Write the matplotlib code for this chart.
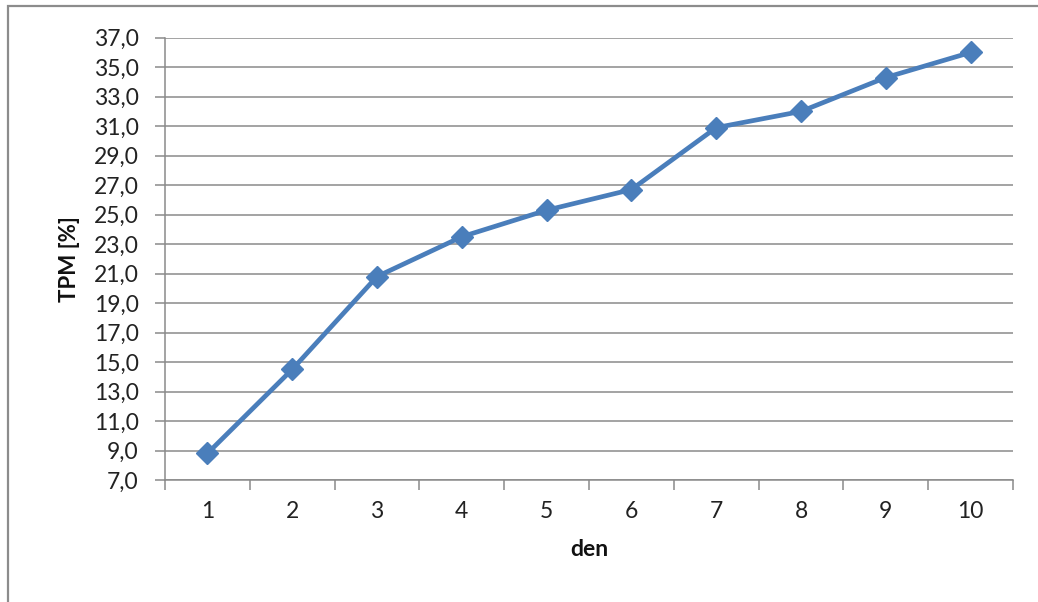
import matplotlib
matplotlib.use("Agg")
import matplotlib.pyplot as plt
from matplotlib.patches import Rectangle
from matplotlib.ticker import FixedLocator, NullFormatter

days = [1, 2, 3, 4, 5, 6, 7, 8, 9, 10]
tpm = [8.8, 14.5, 20.8, 23.5, 25.3, 26.7, 30.9, 32.0, 34.3, 36.0]
y_ticks = [7 + 2 * i for i in range(16)]

plt.rcParams['font.family'] = ['Lato', 'DejaVu Sans']

fig = plt.figure(figsize=(10.38, 6.02), dpi=100)
ax = fig.add_axes([165 / 1038, 1 - 480 / 602, (1013 - 165) / 1038, (480 - 37.7) / 602])

grid_c = '#8a8a8a'
line_c = '#4a7ebb'

ax.plot(days, tpm, color=line_c, lw=3.4, marker='D', markersize=11,
        markerfacecolor=line_c, markeredgecolor=line_c, solid_capstyle='round', zorder=3)

ax.set_xlim(0.5, 10.5)
ax.set_ylim(7, 37)

ax.set_yticks(y_ticks)
ax.set_yticklabels([f"{v:.1f}".replace('.', ',') for v in y_ticks])
ax.yaxis.grid(True, color=grid_c, lw=1.1)
ax.set_axisbelow(True)

# category boundaries carry the tick marks, labels sit in the middle
ax.xaxis.set_major_locator(FixedLocator([d - 0.5 for d in days] + [days[-1] + 0.5]))
ax.xaxis.set_major_formatter(NullFormatter())
ax.xaxis.set_minor_locator(FixedLocator(days))
ax.set_xticklabels([str(d) for d in days], minor=True)

ax.tick_params(axis='x', which='major', length=7, width=1.1, color=grid_c, direction='out')
ax.tick_params(axis='x', which='minor', length=0, pad=15, labelsize=16.5, labelcolor='#222222')
ax.tick_params(axis='y', length=7, width=1.1, color=grid_c, direction='out', pad=12,
               labelsize=16.5, labelcolor='#222222')

for side in ('top', 'right'):
    ax.spines[side].set_visible(False)
for side in ('left', 'bottom'):
    ax.spines[side].set_color(grid_c)
    ax.spines[side].set_linewidth(1.1)

ax.set_xlabel('den', fontsize=16.5, fontweight='bold', labelpad=12, color='#111111')
ax.set_ylabel('TPM [%]', fontsize=16, fontweight='bold', labelpad=10, color='#111111')

# chart frame
fig.patches.append(Rectangle((8 / 1038, -0.05), 1.1, 1 - 6 / 602 + 0.05,
                             transform=fig.transFigure, fill=False,
                             edgecolor='#8c8c8c', lw=1.6))

fig.savefig('out.png', dpi=100, facecolor='white')
